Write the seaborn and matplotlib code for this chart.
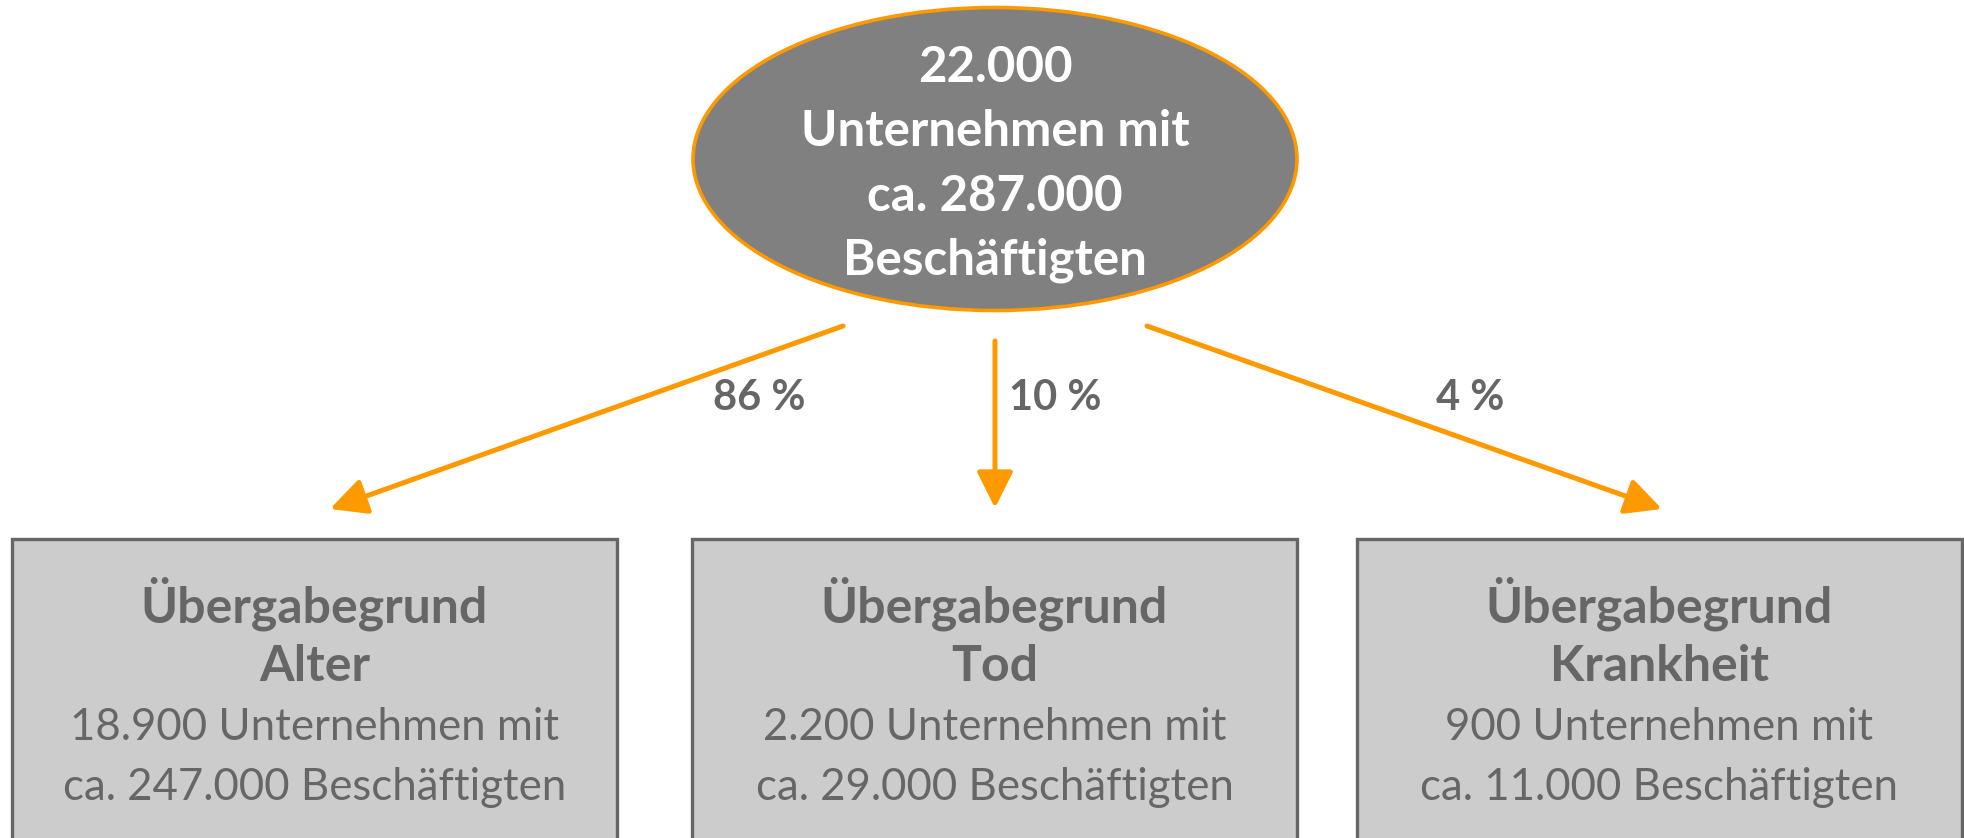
"""
Unternehmensuebergaben nach Uebergabegrund
"""

import matplotlib
matplotlib.use("Agg")
import matplotlib.pyplot as plt
from matplotlib.patches import Ellipse, Rectangle
import seaborn as sns

# ============================================================
# DATA
# ============================================================
total_firms = "22.000"
total_staff = "287.000"
reasons = ["Alter", "Tod", "Krankheit"]
shares = ["86 %", "10 %", "4 %"]
firms = ["18.900", "2.200", "900"]
staff = ["247.000", "29.000", "11.000"]

# ============================================================
# STYLE
# ============================================================
sns.set_style("white")
plt.rcParams['font.family'] = ['Lato', 'DejaVu Sans']

ORANGE = '#FF9900'
DARK = '#808080'
TXT = '#666666'
BOX = '#CCCCCC'

W, H = 1965, 838
fig = plt.figure(figsize=(W / 100, H / 100), dpi=100)
ax = fig.add_axes([0, 0, 1, 1])
ax.set_xlim(0, W)
ax.set_ylim(H, 0)
ax.axis('off')

# top ellipse
cx, cy = 995, 159
ax.add_patch(Ellipse((cx, cy), 604, 303, facecolor=DARK, edgecolor=ORANGE, lw=2.6))
top_lines = [total_firms, "Unternehmen mit", f"ca. {total_staff}", "Beschäftigten"]
for i, line in enumerate(top_lines):
    ax.text(cx, 67 + i * 64.5, line, ha='center', va='center', color='white',
            fontsize=35.5, fontweight='bold')

# boxes and arrows
box_left = [12, 692, 1357]
box_w = 605
box_top = 539
arrow_start = [(843, 326), (995, 341), (1147, 326)]
arrow_end = [(330, 509), (995, 508), (1662, 509)]
label_pos = [(759, 398), (1055, 398), (1470, 398)]

for i, reason in enumerate(reasons):
    ax.annotate("", xy=arrow_end[i], xytext=arrow_start[i],
                arrowprops=dict(arrowstyle='-|>,head_length=1.0,head_width=0.5',
                                lw=3.6, color=ORANGE, shrinkA=0, shrinkB=0,
                                mutation_scale=22))
    ax.text(*label_pos[i], shares[i], ha='center', va='center', color=TXT,
            fontsize=30, fontweight='bold')

    x0 = box_left[i]
    ax.add_patch(Rectangle((x0, box_top), box_w, 330, facecolor=BOX,
                           edgecolor=TXT, lw=2.4))
    bx = x0 + box_w / 2
    ax.text(bx, 604, "Übergabegrund", ha='center', va='center', color=TXT,
            fontsize=36, fontweight='bold')
    ax.text(bx, 666, reason, ha='center', va='center', color=TXT,
            fontsize=36, fontweight='bold')
    ax.text(bx, 727, f"{firms[i]} Unternehmen mit", ha='center', va='center',
            color=TXT, fontsize=31.5)
    ax.text(bx, 787, f"ca. {staff[i]} Beschäftigten", ha='center', va='center',
            color=TXT, fontsize=31.5)

plt.savefig('out.png', dpi=100)
